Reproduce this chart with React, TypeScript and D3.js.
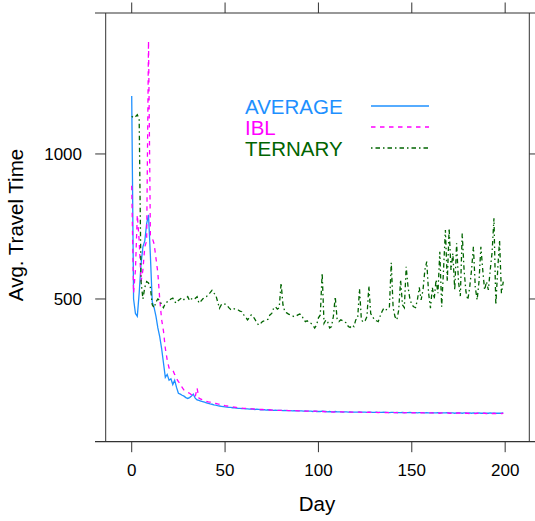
import React from "react";
import * as d3 from "d3";

const seriesNames = ["AVERAGE", "IBL", "TERNARY"];
const seriesColors = ["#1E90FF", "#FF00FF", "#006400"];
const seriesDash = ["none", "4.5,4.5", "1.5,3,4.5,3"];

const xTicks = [0, 50, 100, 150, 200];
const yTicks = [500, 1000];

const average = [
  1200, 500, 450, 440, 520, 620, 680, 700, 760, 790,
  650, 490, 470, 440, 400, 370, 330, 280, 230, 240,
  220, 225, 205, 220, 195, 175, 172, 168, 165, 160,
  157, 160, 165, 172, 158, 152, 150, 148, 146, 144,
  142, 140, 138, 137, 135, 134, 132, 131, 130, 129,
  128, 127, 126, 126, 125, 125, 124, 123, 123, 122,
  122, 121, 121, 120, 121, 120, 119, 120, 119, 118,
  118, 118, 117, 118, 117, 117, 116, 117, 116, 116,
  116, 115, 116, 115, 115, 115, 114, 115, 114, 114,
  114, 114, 113, 114, 113, 113, 113, 112, 113, 112,
  112, 112, 113, 112, 112, 111, 112, 111, 111, 112,
  111, 111, 111, 110, 111, 111, 110, 111, 110, 110,
  110, 110, 111, 110, 110, 110, 109, 110, 110, 109,
  109, 110, 109, 109, 109, 110, 109, 109, 108, 109,
  109, 108, 109, 108, 108, 109, 108, 108, 108, 109,
  108, 108, 108, 107, 108, 108, 108, 107, 108, 107,
  107, 108, 107, 107, 108, 107, 107, 107, 107, 108,
  107, 107, 107, 106, 107, 107, 107, 106, 107, 107,
  106, 107, 106, 107, 106, 106, 107, 106, 106, 106,
  106, 106, 107, 106, 106, 106, 106, 106, 106, 107,
];

const ibl = [
  890, 520, 600, 790, 700, 560, 600, 680, 700, 1390,
  720, 710, 690, 640, 590, 500, 430, 390, 330, 290,
  262, 258, 255, 240, 226, 215, 208, 195, 186, 182,
  178, 175, 170, 165, 162, 193, 158, 155, 152, 150,
  147, 145, 144, 142, 141, 140, 138, 137, 136, 134,
  132, 131, 130, 129, 128, 127, 126, 125, 125, 124,
  123, 123, 122, 122, 121, 121, 120, 120, 120, 119,
  119, 118, 118, 117, 118, 117, 117, 117, 116, 116,
  116, 116, 115, 116, 115, 115, 114, 115, 115, 114,
  114, 113, 114, 113, 113, 114, 113, 112, 113, 113,
  112, 113, 112, 112, 111, 112, 112, 111, 110, 111,
  111, 110, 111, 111, 110, 110, 111, 110, 110, 110,
  109, 110, 110, 109, 110, 109, 109, 110, 109, 109,
  109, 109, 108, 109, 109, 108, 109, 108, 108, 109,
  108, 108, 108, 107, 108, 108, 107, 108, 108, 107,
  107, 108, 107, 107, 107, 108, 107, 107, 106, 107,
  107, 107, 106, 107, 107, 106, 107, 107, 106, 107,
  106, 106, 107, 106, 106, 107, 106, 106, 106, 106,
  106, 105, 106, 106, 105, 106, 106, 105, 106, 106,
  105, 105, 106, 105, 106, 105, 105, 106, 105, 106,
];

const ternary = [
  1130, 1125, 1128, 1135, 1120, 560, 500, 540, 560, 555,
  540, 480, 470, 490, 500, 495, 480, 470, 485, 490,
  495, 500, 503, 490, 486, 495, 500, 505, 498, 502,
  508, 494, 500, 505, 502, 508, 486, 492, 500, 505,
  508, 515, 522, 530, 520, 514, 491, 468, 480, 485,
  482, 479, 470, 464, 468, 466, 464, 462, 458, 456,
  445, 439, 428, 435, 445, 440, 430, 418, 410, 415,
  422, 425, 428, 430, 445, 450, 468, 473, 465, 470,
  555, 480, 456, 452, 448, 445, 442, 439, 441, 445,
  448, 445, 430, 422, 425, 418, 416, 410, 400, 410,
  435, 445, 590, 416, 428, 420, 400, 405, 440, 508,
  430, 422, 428, 425, 420, 418, 405, 402, 410, 405,
  428, 433, 535, 428, 420, 425, 440, 545, 450, 439,
  428, 425, 422, 440, 456, 468, 462, 465, 470, 625,
  470, 439, 428, 462, 566, 480, 470, 611, 540, 500,
  480, 473, 470, 497, 540, 497, 531, 600, 629, 520,
  468, 540, 500, 566, 520, 663, 473, 600, 738, 560,
  744, 600, 657, 531, 692, 560, 510, 726, 600, 525,
  497, 540, 600, 680, 540, 497, 560, 680, 600, 531,
  560, 531, 600, 660, 778, 479, 600, 703, 520, 560,
];

const seriesValues = [average, ibl, ternary];

const W = 535;
const H = 521;
const left = 105.7;
const right = 529.3;
const top = 13;
const bottom = 441.7;
const font = "'Liberation Sans', Arial, Helvetica, sans-serif";

export default function App() {
  const x = d3.scaleLinear().domain([-13.93, 212.93]).range([left, right]);
  const y = d3.scaleLinear().domain([7.9, 1486]).range([bottom, top]);

  const line = d3
    .line<number>()
    .x((_, i) => x(i))
    .y((d) => y(d));

  const axisColor = "#333";

  return (
    <svg
      width={W}
      height={H}
      style={{ position: "absolute", left: 0, top: 0, background: "#fff" }}
      fontFamily={font}
    >
      <rect x={0} y={0} width={W} height={H} fill="#fff" />
      <defs>
        <clipPath id="plotclip">
          <rect x={left} y={top} width={right - left} height={bottom - top} />
        </clipPath>
      </defs>

      <g clipPath="url(#plotclip)">
        {seriesValues.map((vals, k) => (
          <path
            key={seriesNames[k]}
            d={line(vals) || ""}
            fill="none"
            stroke={seriesColors[k]}
            strokeWidth={1.3}
            strokeDasharray={seriesDash[k]}
          />
        ))}
      </g>

      <line x1={left} x2={left} y1={top} y2={bottom} stroke={axisColor} strokeWidth={1} />
      <line x1={right} x2={right} y1={top} y2={bottom} stroke={axisColor} strokeWidth={1} />
      <line x1={95} x2={W} y1={top} y2={top} stroke={axisColor} strokeWidth={1.2} />
      <line x1={95} x2={W} y1={bottom} y2={bottom} stroke={axisColor} strokeWidth={1.2} />

      {xTicks.map((t) => (
        <g key={"x" + t}>
          <line x1={x(t)} x2={x(t)} y1={bottom} y2={bottom + 10.5} stroke={axisColor} />
          <line x1={x(t)} x2={x(t)} y1={top} y2={top - 10.5} stroke={axisColor} />
          <text x={x(t)} y={475.5} textAnchor="middle" fontSize={17} fill="#000">
            {t}
          </text>
        </g>
      ))}

      {yTicks.map((t) => (
        <g key={"y" + t}>
          <line x1={left} x2={left - 10.5} y1={y(t)} y2={y(t)} stroke={axisColor} />
          <line x1={right} x2={right + 10.5} y1={y(t)} y2={y(t)} stroke={axisColor} />
          <text x={82} y={y(t) + 6} textAnchor="end" fontSize={17} fill="#000">
            {t}
          </text>
        </g>
      ))}

      <text x={317} y={510.5} textAnchor="middle" fontSize={20.5} fill="#000">
        Day
      </text>
      <text
        transform={`translate(23,225) rotate(-90)`}
        textAnchor="middle"
        fontSize={20.5}
        fill="#000"
      >
        Avg. Travel Time
      </text>

      {seriesNames.map((name, k) => (
        <g key={"leg" + name}>
          <text x={245} y={114 + k * 21} fontSize={20.5} fill={seriesColors[k]}>
            {name}
          </text>
          <line
            x1={371}
            x2={429}
            y1={106 + k * 21}
            y2={106 + k * 21}
            stroke={seriesColors[k]}
            strokeWidth={1.3}
            strokeDasharray={seriesDash[k]}
          />
        </g>
      ))}
    </svg>
  );
}
